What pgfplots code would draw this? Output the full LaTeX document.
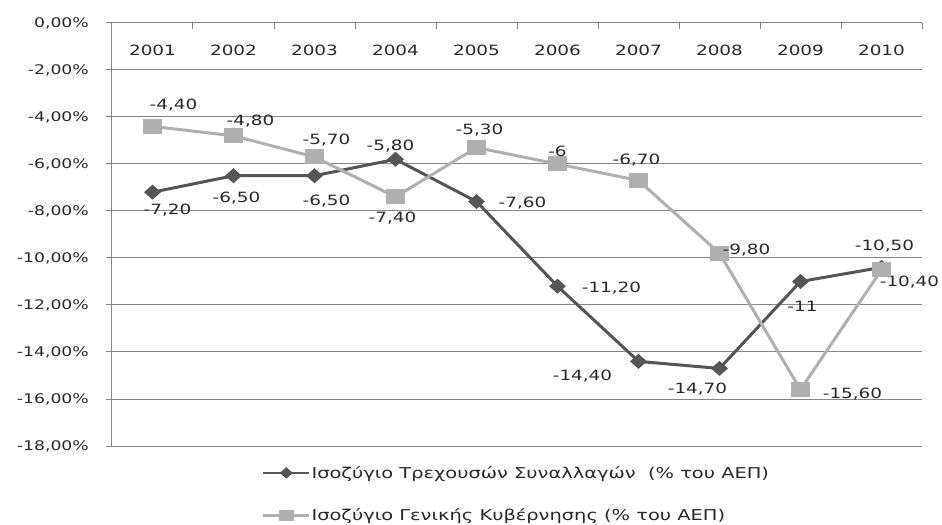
\documentclass[border=0pt]{standalone}
\usepackage{fontspec}
\setmainfont{DejaVu Sans}[FakeStretch=1.3]
\usepackage{pgfplots}
\usepackage{pgfplotstable}
\pgfplotsset{compat=1.18}
\definecolor{darkc}{RGB}{85,85,85}
\definecolor{lightc}{RGB}{175,175,175}
\definecolor{gridc}{RGB}{134,134,134}
\definecolor{textc}{RGB}{40,40,40}

\pgfplotstableread{
x y dx dy lab
1 -7.2 15 -18 {-7,20}
2 -6.5 3 -22 {-6,50}
3 -6.5 12 -25 {-6,50}
4 -5.8 -5 13 {-5,80}
5 -7.6 46 -1 {-7,60}
6 -11.2 54 -2 {-11,20}
7 -14.4 -56 -15 {-14,40}
8 -14.7 -22 -21 {-14,70}
9 -11 2 -25 {-11}
10 -10.4 28 -15 {-10,40}
}\current

\pgfplotstableread{
x y dx dy lab
1 -4.4 21 21 {-4,40}
2 -4.8 17 15 {-4,80}
3 -5.7 12 17 {-5,70}
4 -7.4 -3 -21 {-7,40}
5 -5.3 3 17 {-5,30}
6 -6 0 13 {-6}
7 -6.7 -2 20 {-6,70}
8 -9.8 27 3 {-9,80}
9 -15.6 52 -4 {-15,60}
10 -10.5 3 24 {-10,50}
}\government

\begin{document}
\begin{tikzpicture}[font=\fontsize{14.2}{17}\selectfont, text=textc]
\path[use as bounding box] (-112bp,-79bp) rectangle (830bp,446bp);
\begin{axis}[
  scale only axis,
  width=810bp, height=423bp,
  xmin=0.5, xmax=10.5,
  ymin=-18, ymax=0,
  clip=false,
  axis x line*=top,
  axis y line*=left,
  axis line style={draw=gridc, line width=1bp, -},
  tick align=inside,
  major tick length=6bp,
  every tick/.style={draw=gridc, line width=1bp},
  ytick style={xshift=-6bp},
  xtick={0.5,1.5,...,10.5},
  xticklabels={},
  extra x ticks={1,2,3,4,5,6,7,8,9,10},
  extra x tick labels={2001,2002,2003,2004,2005,2006,2007,2008,2009,2010},
  extra x tick style={major tick length=0pt, xticklabel style={anchor=center, yshift=-27bp}},
  ytick={-18,-16,...,0},
  yticklabels={{-18,00\%},{-16,00\%},{-14,00\%},{-12,00\%},{-10,00\%},{-8,00\%},{-6,00\%},{-4,00\%},{-2,00\%},{0,00\%}},
  yticklabel style={anchor=east, inner sep=0pt, xshift=-23bp, font=\fontsize{13.3}{16}\selectfont},
  ymajorgrids,
  grid style={draw=gridc, line width=1bp},
  legend cell align=left,
  legend style={draw=none, fill=none, at={(0.185,0)}, anchor=north west,
    yshift=-19bp, row sep=27bp, inner sep=0pt,
    font=\fontsize{15}{18}\selectfont,
    nodes={inner sep=1bp, text=textc},
    /tikz/every even column/.append style={column sep=0pt}},
  legend image code/.code={\draw[mark repeat=2,mark phase=2,#1] plot coordinates {(0bp,0bp) (23bp,0bp) (46bp,0bp)};},
  legend image post style={line width=2.5bp, every mark/.append style={scale=0.75}},
  nodes near coords,
  point meta=explicit symbolic,
  visualization depends on={\thisrow{dx}\as\dx},
  visualization depends on={\thisrow{dy}\as\dy},
  every node near coord/.append style={anchor=center, xshift=\dx bp, yshift=\dy bp, text=textc, inner sep=0pt},
]
\addplot[darkc, line width=3bp, mark=diamond*, mark size=5.5bp, mark options={xscale=1.5, solid}]
  table[x=x, y=y, meta=lab] {\current};
\addlegendentry{Ισοζύγιο Τρεχουσών Συναλλαγών\ \ (\% του ΑΕΠ)}
\addplot[lightc, line width=3bp, mark=square*, mark size=6bp, mark options={xscale=1.4, solid}]
  table[x=x, y=y, meta=lab] {\government};
\addlegendentry{Ισοζύγιο Γενικής Κυβέρνησης (\% του ΑΕΠ)}
\end{axis}
\end{tikzpicture}
\end{document}
